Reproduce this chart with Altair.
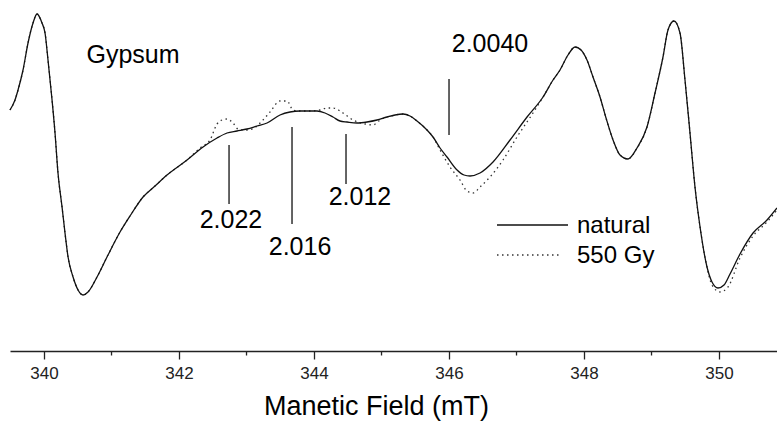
import altair as alt
import pandas as pd

# ---- EPR spectrum, natural sample (solid) ----
field_natural = [339.496, 339.570, 339.615, 339.689, 339.763, 339.837, 339.896, 339.970, 340.015, 340.059,
                 340.119, 340.163, 340.207, 340.267, 340.311, 340.356, 340.430, 340.504, 340.578, 340.652,
                 340.785, 340.933, 341.126, 341.274, 341.467, 341.644, 341.822, 342.119, 342.356, 342.563,
                 342.711, 342.859, 343.007, 343.156, 343.304, 343.496, 343.644, 343.793, 344.044, 344.163,
                 344.281, 344.385, 344.489, 344.637, 344.785, 344.933, 345.081, 345.200, 345.319, 345.422,
                 345.526, 345.674, 345.763, 345.867, 345.970, 346.119, 346.222, 346.311, 346.459, 346.652,
                 346.904, 347.156, 347.393, 347.541, 347.644, 347.763, 347.867, 347.956, 348.044, 348.133,
                 348.237, 348.326, 348.430, 348.533, 348.652, 348.785, 348.933, 349.052, 349.170, 349.244,
                 349.333, 349.422, 349.496, 349.570, 349.644, 349.719, 349.822, 349.896, 349.985, 350.074,
                 350.163, 350.311, 350.504, 350.711, 350.859]
signal_natural = [50, 60, 70, 90, 117, 137, 146, 137, 127, 100,
                  60, 27, -13, -47, -73, -97, -117, -130, -135, -132,
                  -117, -97, -72, -56, -37, -26, -15, 0, 13, 22,
                  27, 29, 31, 34, 37, 45, 48, 49, 49, 47,
                  43, 39, 38, 37, 38, 40, 43, 45, 46, 44,
                  39, 30, 23, 12, 3, -10, -15, -16, -13, -2,
                  20, 43, 63, 80, 90, 105, 113, 110, 100, 83,
                  63, 42, 20, 5, 1, 12, 33, 67, 103, 130,
                  139, 127, 80, 27, -27, -67, -107, -122, -128, -125,
                  -114, -94, -73, -60, -48]

# ---- EPR spectrum, 550 Gy irradiated (dotted) ----
field_550 = [339.496, 339.570, 339.615, 339.689, 339.763, 339.837, 339.896, 339.970, 340.015, 340.059,
             340.119, 340.163, 340.207, 340.267, 340.311, 340.356, 340.430, 340.504, 340.578, 340.652,
             340.785, 340.933, 341.126, 341.274, 341.467, 341.644, 341.822, 342.119, 342.311, 342.459,
             342.563, 342.637, 342.711, 342.800, 342.874, 343.007, 343.156, 343.230, 343.348, 343.496,
             343.600, 343.689, 343.793, 343.941, 344.089, 344.193, 344.281, 344.430, 344.578, 344.756,
             344.874, 344.978, 345.081, 345.200, 345.319, 345.422, 345.526, 345.674, 345.763, 345.867,
             346.015, 346.163, 346.267, 346.356, 346.459, 346.607, 346.800, 347.007, 347.244, 347.393,
             347.541, 347.644, 347.763, 347.867, 347.956, 348.044, 348.133, 348.237, 348.326, 348.430,
             348.533, 348.652, 348.785, 348.933, 349.052, 349.170, 349.244, 349.333, 349.422, 349.496,
             349.570, 349.644, 349.719, 349.822, 349.896, 350.015, 350.133, 350.311, 350.504, 350.711,
             350.859]
signal_550 = [50, 60, 70, 90, 117, 137, 146, 137, 127, 100,
              60, 27, -13, -47, -73, -97, -117, -130, -135, -132,
              -117, -97, -72, -56, -37, -26, -15, 0, 12, 20,
              36, 40, 41, 37, 31, 30, 34, 39, 48, 59,
              59, 50, 49, 49, 50, 52, 52, 47, 40, 36,
              35, 40, 43, 45, 46, 44, 39, 30, 23, 10,
              -7, -20, -31, -33, -27, -17, 0, 23, 47, 63,
              80, 90, 105, 113, 110, 100, 83, 63, 42, 20,
              5, 1, 12, 33, 67, 103, 130, 139, 127, 80,
              27, -27, -67, -107, -125, -132, -127, -98, -76, -62,
              -50]

# ---- g-value markers ----
marker_labels = ["2.022", "2.016", "2.012", "2.0040"]
marker_field = [342.741, 343.674, 344.474, 346.0]
marker_top = [15, 33, 26, 81]
marker_bottom = [-44, -64, -24, 25]
label_field = [342.770, 343.793, 344.681, 346.607]
label_base = [-68, -95, -45, 108]

# ---- sample label ----
sample_label = ["Gypsum"]
sample_field = [341.319]
sample_base = [97]

# ---- legend ----
legend_series = ["natural", "550 Gy"]
legend_x1 = [346.711, 346.711]
legend_x2 = [347.763, 347.644]
legend_y = [-65, -95]
legend_text_x = [347.896, 347.896]
legend_text_y = [-73, -103]

# ---- axis ticks ----
major_ticks = [340, 342, 344, 346, 348, 350]
minor_ticks = [341, 343, 345, 347, 349]
minor_tick_top = -191
minor_tick_bottom = -195.5

x_domain = [339.496, 350.859]
y_domain = [-191, 160]

nat = pd.DataFrame({"field": field_natural, "signal": signal_natural})
irr = pd.DataFrame({"field": field_550, "signal": signal_550})
markers = pd.DataFrame({"label": marker_labels, "x": marker_field, "y1": marker_top,
                        "y2": marker_bottom, "lx": label_field, "ly": label_base})
sample = pd.DataFrame({"label": sample_label, "x": sample_field, "y": sample_base})
legend = pd.DataFrame({"series": legend_series, "x1": legend_x1, "x2": legend_x2, "y": legend_y,
                       "tx": legend_text_x, "ty": legend_text_y})
minor = pd.DataFrame({"x": minor_ticks, "y1": [minor_tick_top] * len(minor_ticks),
                      "y2": [minor_tick_bottom] * len(minor_ticks)})

xs = alt.Scale(domain=x_domain, nice=False, zero=False)
ys = alt.Scale(domain=y_domain, nice=False, zero=False)

x_axis = alt.Axis(
    values=major_ticks,
    format="d",
    grid=False,
    tickSize=8,
    tickWidth=1.3,
    tickColor="#222",
    domainColor="#222",
    domainWidth=1.5,
    labelFont="Liberation Sans",
    labelFontSize=17,
    labelColor="#222",
    labelPadding=6,
    labelFlush=False,
    title="Manetic Field (mT)",
    titleFont="Liberation Sans",
    titleFontSize=27,
    titleFontWeight="normal",
    titleColor="#000",
    titlePadding=12,
    titleX=366,
)


def X(f):
    return alt.X(f, scale=xs, axis=x_axis)


def Y(f):
    return alt.Y(f, scale=ys, axis=None)


dotted = alt.Chart(irr).mark_line(
    color="#333", strokeWidth=1.3, strokeDash=[1.5, 3.5], interpolate="monotone"
).encode(x=X("field:Q"), y=Y("signal:Q"), order="field:Q")

solid = alt.Chart(nat).mark_line(
    color="#111", strokeWidth=1.3, interpolate="monotone"
).encode(x=X("field:Q"), y=Y("signal:Q"), order="field:Q")

minor_rules = alt.Chart(minor).mark_rule(color="#222", strokeWidth=1.3).encode(
    x=X("x:Q"), y=Y("y1:Q"), y2="y2:Q"
)

marker_rules = alt.Chart(markers).mark_rule(color="#111", strokeWidth=1.3).encode(
    x=X("x:Q"), y=Y("y1:Q"), y2="y2:Q"
)

marker_text = alt.Chart(markers).mark_text(
    font="Liberation Sans", fontSize=25, color="#000", align="center", baseline="alphabetic"
).encode(x=X("lx:Q"), y=Y("ly:Q"), text="label:N")

sample_text = alt.Chart(sample).mark_text(
    font="Liberation Sans", fontSize=25, color="#000", align="center", baseline="alphabetic"
).encode(x=X("x:Q"), y=Y("y:Q"), text="label:N")

legend_solid = alt.Chart(legend[legend["series"] == "natural"]).mark_rule(
    color="#111", strokeWidth=1.3
).encode(x=X("x1:Q"), x2="x2:Q", y=Y("y:Q"))

legend_dot = alt.Chart(legend[legend["series"] == "550 Gy"]).mark_rule(
    color="#333", strokeWidth=1.3, strokeDash=[1.5, 3.5]
).encode(x=X("x1:Q"), x2="x2:Q", y=Y("y:Q"))

legend_text = alt.Chart(legend).mark_text(
    font="Liberation Sans", fontSize=24, color="#000", align="left", baseline="alphabetic"
).encode(x=X("tx:Q"), y=Y("ty:Q"), text="series:N")

chart = alt.layer(
    dotted, solid, minor_rules, marker_rules, marker_text, sample_text,
    legend_solid, legend_dot, legend_text
).properties(
    width=767,
    height=351,
    autosize=alt.AutoSizeParams(type="none"),
    padding={"left": 10, "top": 0, "right": 0, "bottom": 73},
    background="white",
).configure_view(strokeWidth=0)

chart.save("out.html", embed_options={"renderer": "svg", "actions": False})
